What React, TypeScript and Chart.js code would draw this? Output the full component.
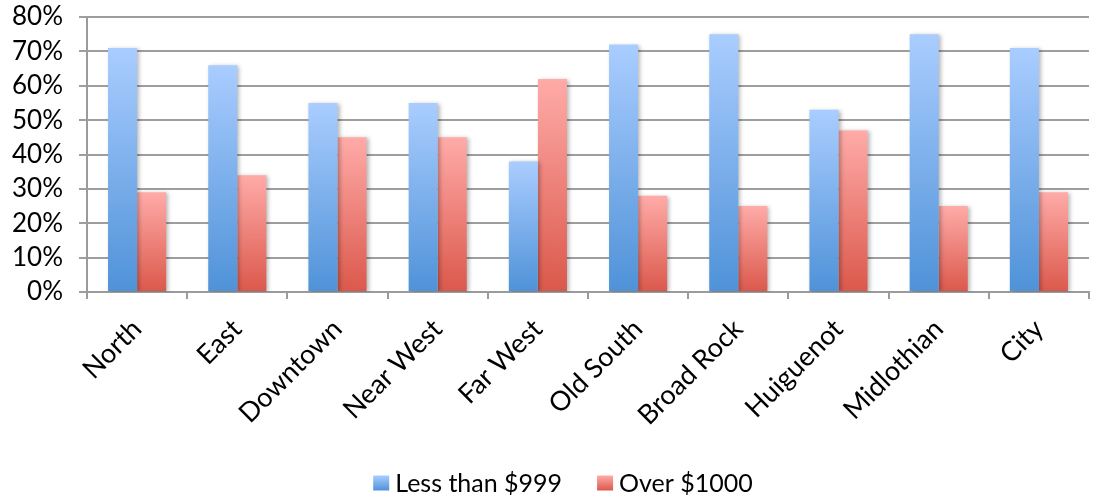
import React, { useEffect, useRef } from "react";
import { Chart, registerables } from "chart.js";

Chart.register(...registerables);

// Neighbourhood rent shares
const categories = [
  "North",
  "East",
  "Downtown",
  "Near West",
  "Far West",
  "Old South",
  "Broad Rock",
  "Huiguenot",
  "Midlothian",
  "City",
];
const lessThan999 = [71, 66, 55, 55, 38, 72, 75, 53, 75, 71];
const over1000 = [29, 34, 45, 45, 62, 28, 25, 47, 25, 29];
const seriesNames = ["Less than $999", "Over $1000"];
const yTicks = [0, 10, 20, 30, 40, 50, 60, 70, 80];

const FONT = "Lato, 'Open Sans', sans-serif";

const BLUE = { top: "#aacdff", bottom: "#4f92d8" };
const RED = { top: "#ffaba8", bottom: "#db584b" };
const SERIES_COLORS = [BLUE, RED];

function vGradient(ctx: CanvasRenderingContext2D, y0: number, y1: number, c: { top: string; bottom: string }) {
  const g = ctx.createLinearGradient(0, y0, 0, y1);
  g.addColorStop(0, c.top);
  g.addColorStop(1, c.bottom);
  return g;
}

// Vertical gradient running over each bar's own height
function barFill(colors: { top: string; bottom: string }) {
  return (context: any) => {
    const chart = context.chart;
    const yScale = chart.scales?.y;
    if (context.type === "data" && yScale && chart.chartArea) {
      const top = yScale.getPixelForValue(context.raw as number);
      const base = yScale.getPixelForValue(0);
      if (!isFinite(top) || !isFinite(base) || top === base) return colors.bottom;
      return vGradient(chart.ctx, top, base, colors);
    }
    return colors.bottom;
  };
}

const barShadow = {
  id: "barShadow",
  beforeDatasetsDraw(chart: any) {
    const ctx = chart.ctx;
    ctx.save();
    ctx.shadowColor = "rgba(0,0,0,0.28)";
    ctx.shadowBlur = 4;
    ctx.shadowOffsetX = 2;
    ctx.shadowOffsetY = 1;
  },
  afterDatasetsDraw(chart: any) {
    chart.ctx.restore();
  },
};

// Bottom legend with gradient swatches
const swatchLegend = {
  id: "swatchLegend",
  afterDraw(chart: any) {
    const ctx: CanvasRenderingContext2D = chart.ctx;
    const box = 16;
    const boxH = 15;
    const textGap = 6;
    const itemGap = 35;
    const centerX = 563;
    const midY = 484;
    ctx.save();
    ctx.font = `25px ${FONT}`;
    const labels = chart.data.datasets.map((d: any) => d.label as string);
    const widths = labels.map((t: string) => ctx.measureText(t).width);
    const total =
      widths.reduce((s: number, w: number) => s + w + box + textGap, 0) + itemGap * (labels.length - 1);
    let x = centerX - total / 2;
    labels.forEach((t: string, i: number) => {
      const y0 = midY - boxH / 2 - 1;
      ctx.fillStyle = vGradient(ctx, y0, y0 + boxH, SERIES_COLORS[i]);
      ctx.fillRect(x, y0, box, boxH);
      x += box + textGap;
      ctx.fillStyle = "#000";
      ctx.textBaseline = "middle";
      ctx.textAlign = "left";
      ctx.fillText(t, x, midY);
      x += widths[i] + itemGap;
    });
    ctx.restore();
  },
};

export default function App() {
  const canvasRef = useRef<HTMLCanvasElement | null>(null);

  useEffect(() => {
    const canvas = canvasRef.current;
    if (!canvas) return;
    const chart = new Chart(canvas, {
      type: "bar",
      data: {
        labels: categories,
        datasets: [
          {
            label: seriesNames[0],
            data: lessThan999,
            backgroundColor: barFill(BLUE),
            borderWidth: 0,
          },
          {
            label: seriesNames[1],
            data: over1000,
            backgroundColor: barFill(RED),
            borderWidth: 0,
          },
        ],
      },
      plugins: [barShadow, swatchLegend],
      options: {
        animation: false,
        responsive: false,
        maintainAspectRatio: false,
        devicePixelRatio: 1,
        layout: { padding: { top: 17, right: 7, left: 0, bottom: 48 } },
        datasets: {
          bar: { categoryPercentage: 0.58, barPercentage: 1.0 },
        },
        scales: {
          x: {
            grid: {
              display: true,
              offset: true,
              drawOnChartArea: false,
              drawTicks: true,
              tickLength: 7,
              color: "#9b9b9b",
              lineWidth: 2,
            },
            border: { display: true, color: "#9b9b9b", width: 2 },
            ticks: {
              color: "#000",
              font: { family: FONT, size: 27 },
              minRotation: 45,
              maxRotation: 45,
              padding: 14,
              autoSkip: false,
            },
            afterFit(scale: any) {
              scale.height = 160;
              scale.paddingLeft = 0;
              scale.paddingRight = 0;
            },
          },
          y: {
            min: 0,
            max: 80,
            afterBuildTicks(scale: any) {
              scale.ticks = yTicks.map((v) => ({ value: v }));
            },
            grid: {
              color: "#9e9e9e",
              lineWidth: 2,
              tickLength: 8,
            },
            border: { display: true, color: "#9b9b9b", width: 2 },
            ticks: {
              color: "#000",
              font: { family: FONT, size: 26 },
              padding: 16,
              autoSkip: false,
              callback: (v: any) => `${v}%`,
            },
            afterFit(scale: any) {
              scale.width = 87;
              scale.paddingTop = 0;
              scale.paddingBottom = 0;
            },
          },
        },
        plugins: {
          legend: { display: false },
          tooltip: { enabled: false },
        },
      },
    });
    return () => chart.destroy();
  }, []);

  return (
    <div style={{ position: "fixed", left: 0, top: 0, width: 1096, height: 500, background: "#fff" }}>
      <canvas ref={canvasRef} width={1096} height={500} style={{ display: "block" }} />
    </div>
  );
}
